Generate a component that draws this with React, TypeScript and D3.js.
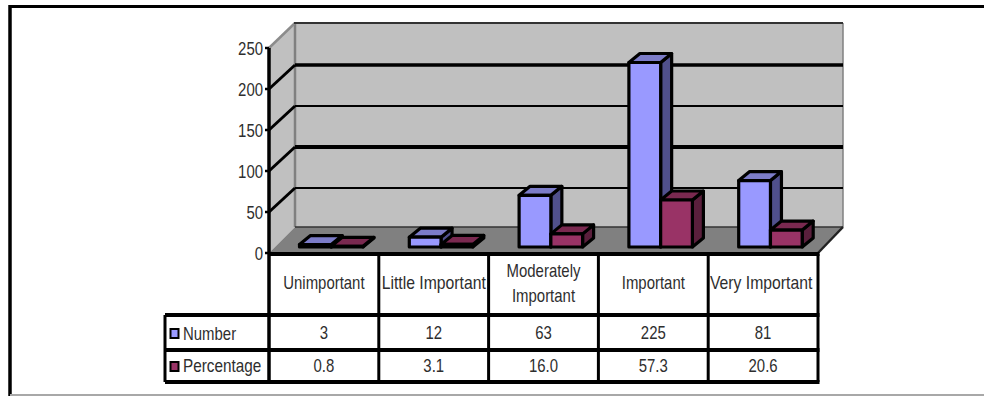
import React from "react";
import * as d3 from "d3";

const categories = ["Unimportant", "Little Important", "Moderately Important", "Important", "Very Important"];
const numberValues = [3, 12, 63, 225, 81];
const percentageValues = [0.8, 3.1, 16.0, 57.3, 20.6];
const percentageLabels = ["0.8", "3.1", "16.0", "57.3", "20.6"];
const axisTicks = [0, 50, 100, 150, 200, 250];
const gridWeights: Record<number, number> = { 50: 2, 100: 4, 150: 2, 200: 3.5 };

const W = 984;
const H = 396;
const plotLeft = 269;
const plotRight = 818;
const depth = 26;
const y = d3.scaleLinear().domain([0, 250]).range([253, 48]);
const band = d3.scaleBand<string>().domain(categories).range([plotLeft, plotRight]);
const series = d3.scaleBand<string>().domain(["Number", "Percentage"]).range([30.5, 94]);

const barBase = 247;
const barDepthX = 11;
const barDepthY = 9;
const heightOf = (v: number) => y(0) - y(v);

const fontFamily = "'Liberation Sans', Arial, sans-serif";
const textColor = "#2e2e2e";

function Label({ x, y: ty, text, anchor = "middle", stretch = 0.83 }: { x: number; y: number; text: string; anchor?: string; stretch?: number }) {
  return (
    <text
      transform={`translate(${x},${ty}) scale(${stretch},1)`}
      textAnchor={anchor}
      dominantBaseline="central"
      fontFamily={fontFamily}
      fontSize={18}
      fill={textColor}
    >
      {text}
    </text>
  );
}

function Bar({ x, w, value, front, top, side }: { x: number; w: number; value: number; front: string; top: string; side: string }) {
  const t = barBase - heightOf(value);
  const poly = (pts: number[][]) => pts.map((p) => p.join(",")).join(" ");
  const common = { stroke: "#000", strokeWidth: 3.2, strokeLinejoin: "round" as const };
  return (
    <g>
      <polygon points={poly([[x + w, barBase], [x + w + barDepthX, barBase - barDepthY], [x + w + barDepthX, t - barDepthY], [x + w, t]])} fill={side} {...common} />
      <polygon points={poly([[x, t], [x + barDepthX, t - barDepthY], [x + w + barDepthX, t - barDepthY], [x + w, t]])} fill={top} {...common} />
      <rect x={x} y={t} width={w} height={barBase - t} fill={front} {...common} />
    </g>
  );
}

export default function App() {
  const colEdges = [...categories.map((c) => band(c)!), plotRight];
  const rowTop = 254;
  const rowMid = 315;
  const rowLow = 350;
  const rowEnd = 382;
  const headerLeft = 165;
  const wallTop = y(250) - depth + 1;
  const wallBottom = y(0) - depth;
  const wallY = (t: number) => y(t) - depth + 2;
  return (
    <svg width={W} height={H} style={{ position: "absolute", left: 0, top: 0, background: "#fff" }}>
      {/* outer frame */}
      <line x1={10} y1={6.5} x2={W} y2={6.5} stroke="#000" strokeWidth={3} />
      <line x1={10} y1={5} x2={10} y2={H} stroke="#000" strokeWidth={3.5} />
      <line x1={10} y1={395} x2={W} y2={395} stroke="#a8a8a8" strokeWidth={2} />

      {/* walls and floor */}
      <polygon points={`${plotLeft},${y(250)} ${plotLeft + depth},${wallTop} ${plotLeft + depth},${wallBottom} ${plotLeft},${y(0)}`} fill="#c0c0c0" />
      <rect x={plotLeft + depth} y={wallTop} width={plotRight + 25 - plotLeft - depth} height={wallBottom - wallTop} fill="#c0c0c0" />
      <polygon points={`${plotLeft},${y(0)} ${plotLeft + depth},${wallBottom} ${plotRight + 25},${wallBottom} ${plotRight},${y(0)}`} fill="#808080" />
      <line x1={plotLeft + depth} y1={wallTop} x2={plotLeft + depth} y2={wallBottom} stroke="#808080" strokeWidth={2.5} />
      <line x1={plotRight + 25} y1={wallTop} x2={plotRight + 25} y2={wallBottom} stroke="#808080" strokeWidth={1.5} />
      <line x1={plotLeft} y1={y(250)} x2={plotLeft + depth} y2={wallTop} stroke="#8c8c8c" strokeWidth={2.5} />
      <line x1={plotLeft + depth - 1} y1={wallTop} x2={plotRight + 25} y2={wallTop} stroke="#333" strokeWidth={2} />
      <line x1={plotLeft + depth} y1={wallBottom} x2={plotRight + 25} y2={wallBottom} stroke="#333" strokeWidth={1.5} />

      {/* gridlines run along the back wall and down the side wall */}
      {axisTicks.filter((t) => gridWeights[t]).map((t) => (
        <g key={t} stroke="#000">
          <line x1={plotLeft + depth} y1={wallY(t)} x2={plotRight + 25} y2={wallY(t)} strokeWidth={gridWeights[t]} />
          <line x1={plotLeft} y1={y(t)} x2={plotLeft + depth} y2={wallY(t)} strokeWidth={3} />
        </g>
      ))}

      {/* value axis */}
      <line x1={plotLeft} y1={y(250)} x2={plotLeft} y2={rowEnd} stroke="#000" strokeWidth={3.5} />
      {axisTicks.map((t) => (
        <g key={t}>
          <line x1={plotLeft - 4} y1={y(t)} x2={plotLeft} y2={y(t)} stroke="#000" strokeWidth={2.5} />
          <Label x={plotLeft - 6} y={y(t) + 1.5} text={String(t)} anchor="end" />
        </g>
      ))}

      {/* bars */}
      {categories.map((c, i) => {
        const x0 = band(c)!;
        return (
          <g key={c}>
            <Bar x={x0 + series("Number")!} w={series.bandwidth()} value={numberValues[i]} front="#9999ff" top="#7c7cc8" side="#50508c" />
            <Bar x={x0 + series("Percentage")!} w={series.bandwidth()} value={percentageValues[i]} front="#993366" top="#7a2950" side="#5a1f3c" />
          </g>
        );
      })}

      {/* right floor edge */}
      <line x1={plotRight} y1={y(0)} x2={plotRight + 25} y2={wallBottom} stroke="#222" strokeWidth={2.5} />

      {/* data table */}
      <g stroke="#000">
        <line x1={plotLeft} y1={rowTop} x2={plotRight + 1.5} y2={rowTop} strokeWidth={4} />
        <line x1={headerLeft} y1={rowMid} x2={plotRight + 1.5} y2={rowMid} strokeWidth={4} />
        <line x1={headerLeft} y1={rowLow} x2={plotRight + 1.5} y2={rowLow} strokeWidth={4} />
        <line x1={headerLeft} y1={rowEnd} x2={plotRight + 1.5} y2={rowEnd} strokeWidth={4} />
        <line x1={headerLeft} y1={rowMid} x2={headerLeft} y2={rowEnd} strokeWidth={3} />
        {colEdges.slice(1).map((x) => (
          <line key={x} x1={x} y1={rowTop} x2={x} y2={rowEnd} strokeWidth={3} />
        ))}
      </g>

      {categories.map((c, i) => {
        const cx = band(c)! + band.bandwidth() / 2;
        const words = c === "Moderately Important" ? c.split(" ") : [c];
        const wide = c.length > 12 ? 0.875 : 0.83;
        return (
          <g key={c}>
            {words.length === 2 ? (
              <>
                <Label x={cx} y={271} text={words[0]} />
                <Label x={cx} y={296} text={words[1]} />
              </>
            ) : (
              <Label x={c === "Very Important" ? cx - 2 : cx} y={283} text={c} stretch={wide} />
            )}
            <Label x={cx} y={333} text={String(numberValues[i])} />
            <Label x={cx} y={366} text={percentageLabels[i]} />
          </g>
        );
      })}

      {/* series keys */}
      <rect x={170.5} y={329} width={8} height={9} fill="#9999ff" stroke="#000" strokeWidth={2} />
      <rect x={170.5} y={362} width={8} height={9} fill="#993366" stroke="#000" strokeWidth={2} />
      <Label x={183} y={334} text="Number" anchor="start" />
      <Label x={183} y={366} text="Percentage" anchor="start" stretch={0.85} />
    </svg>
  );
}
